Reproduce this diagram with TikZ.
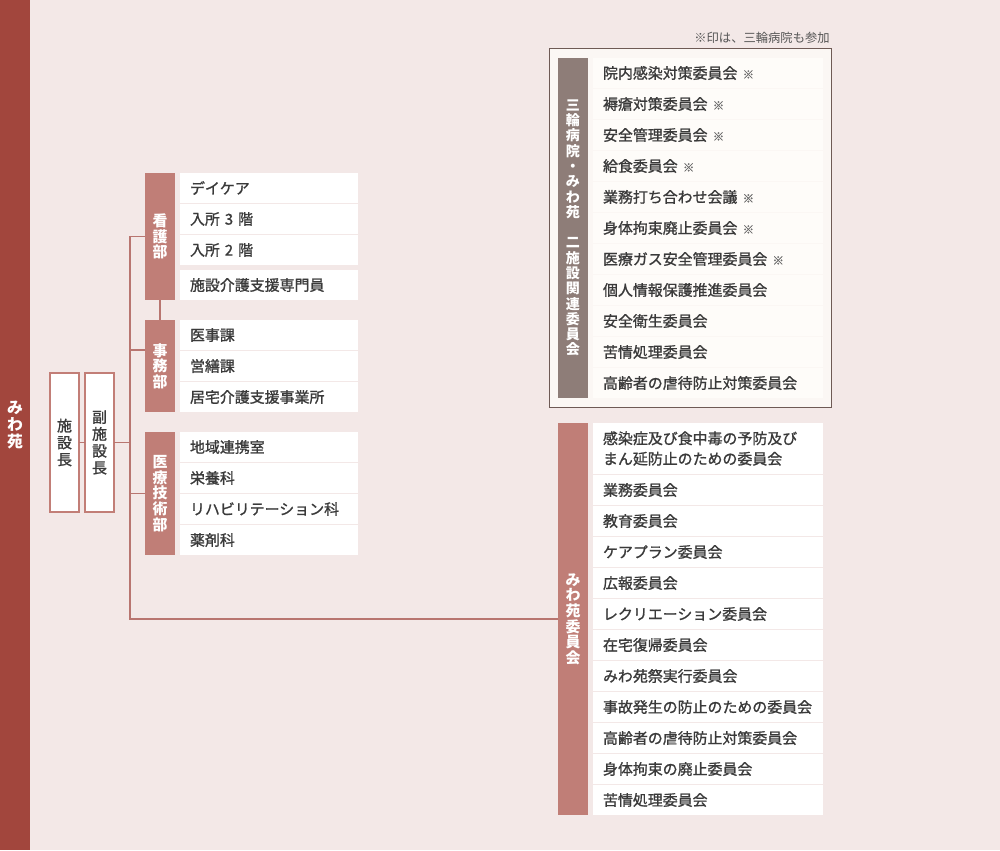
\documentclass[tikz,border=0pt]{standalone}
\usepackage{fontspec}
\setmainfont{Noto Sans CJK JP}
\newfontfamily\medfont[FakeBold=1.2]{Noto Sans CJK JP}
\definecolor{bg}{HTML}{F3E8E7}
\definecolor{leftbar}{HTML}{A2463D}
\definecolor{dept}{HTML}{C07E77}
\definecolor{upperlab}{HTML}{8E7D78}
\definecolor{lowerlab}{HTML}{C07E77}
\definecolor{boxline}{HTML}{C27E77}
\definecolor{conn}{HTML}{B87570}
\definecolor{txt}{HTML}{3A3A3A}
\definecolor{framec}{HTML}{6E5A55}
\definecolor{framefill}{HTML}{FBF7F4}
\definecolor{itemfill}{HTML}{FFFFFF}
\definecolor{uitemfill}{HTML}{FEFCF9}
\definecolor{komec}{HTML}{6E6E6E}
\definecolor{notec}{HTML}{555555}
\newcommand\kome{\hspace{0.35em}{\color{komec}\fontsize{6.5}{6.5}\selectfont ※}}
\newcommand\mybox[7]{\node[#6,minimum width={(#4-#2)*0.02cm},minimum height={(#5-#3)*0.02cm}] (#1) at ({(#2+#4)/2},{(#3+#5)/2}) {#7};}
\tikzset{
  basebox/.style={inner sep=0pt,outer sep=0pt,draw=none},
  vlabel/.style={basebox,align=center,text=white,font=\bfseries\fontsize{8.5}{8.9}\selectfont},
  deptbox/.style={vlabel,fill=dept},
  headbox/.style={basebox,fill=white,draw=boxline,line width=0.6pt,align=center,text=txt,font=\medfont\fontsize{8.5}{9.6}\selectfont},
  litem/.style={basebox,fill=itemfill,text width=3.16cm,inner xsep=0.2cm,align=left,text=txt,font=\medfont\fontsize{8.5}{11.4}\selectfont},
  ritem/.style={basebox,fill=itemfill,text width=4.2cm,inner xsep=0.2cm,align=left,text=txt,font=\medfont\fontsize{8.5}{11.4}\selectfont},
  uitem/.style={ritem,fill=uitemfill},
  conline/.style={draw=conn,line width=0.6pt},
}
\begin{document}
\begin{tikzpicture}[x=0.02cm,y=-0.02cm]
\fill[bg] (0,0) rectangle (1000,850);
\useasboundingbox (0,0) rectangle (1000,850);
% left bar
\mybox{bar}{0}{0}{30}{850}{vlabel,fill=leftbar,font=\bfseries\fontsize{9}{9.6}\selectfont}{み\\わ\\苑}
% heads
\mybox{cho}{50}{373}{79}{512}{headbox}{施\\設\\長}
\mybox{fuku}{85}{373}{114}{512}{headbox}{副\\施\\設\\長}
% departments
\mybox{kango}{145}{173}{175}{300}{deptbox}{看\\護\\部}
\mybox{jimu}{145}{320}{175}{412}{deptbox}{事\\務\\部}
\mybox{iryo}{145}{432}{175}{555}{deptbox}{医\\療\\技\\術\\部}
% nursing items
\mybox{k1}{180}{173}{358}{203}{litem}{デイケア}
\mybox{k2}{180}{204}{358}{234}{litem}{入所 3 階}
\mybox{k3}{180}{235}{358}{265}{litem}{入所 2 階}
\mybox{k4}{180}{270}{358}{300}{litem}{施設介護支援専門員}
% office items
\mybox{j1}{180}{320}{358}{350}{litem}{医事課}
\mybox{j2}{180}{351}{358}{381}{litem}{営繕課}
\mybox{j3}{180}{382}{358}{412}{litem}{居宅介護支援事業所}
% medical tech items
\mybox{m1}{180}{432}{358}{462}{litem}{地域連携室}
\mybox{m2}{180}{463}{358}{493}{litem}{栄養科}
\mybox{m3}{180}{494}{358}{524}{litem}{リハビリテーション科}
\mybox{m4}{180}{525}{358}{555}{litem}{薬剤科}
% upper committee frame
\node[anchor=east,inner sep=0pt,text=notec,font=\fontsize{7}{8}\selectfont] (note) at (830,38) {※印は、三輪病院も参加};
\mybox{frame}{549}{48}{831}{407}{basebox,draw=framec,fill=framefill,line width=0.5pt}{}
\mybox{ulab}{558}{58}{588}{398}{vlabel,fill=upperlab,font=\bfseries\fontsize{8}{8.7}\selectfont}{三\\輪\\病\\院\\・\\み\\わ\\苑\\　\\二\\施\\設\\関\\連\\委\\員\\会}
\foreach \t [count=\i from 0] in {院内感染対策委員会\kome,褥瘡対策委員会\kome,安全管理委員会\kome,給食委員会\kome,業務打ち合わせ会議\kome,身体拘束廃止委員会\kome,医療ガス安全管理委員会\kome,個人情報保護推進委員会,安全衛生委員会,苦情処理委員会,高齢者の虐待防止対策委員会}{
  \pgfmathsetmacro\ya{58+31*\i}
  \mybox{u\i}{593}{\ya}{823}{\ya+30}{uitem}{\t}
}
% lower committee
\mybox{llab}{558}{423}{588}{815}{vlabel,fill=lowerlab}{み\\わ\\苑\\委\\員\\会}
\mybox{w0}{593}{423}{823}{474}{ritem,font=\medfont\fontsize{8.5}{11.6}\selectfont}{感染症及び食中毒の予防及び\\まん延防止のための委員会}
\foreach \t [count=\i from 1] in {業務委員会,教育委員会,ケアプラン委員会,広報委員会,レクリエーション委員会,在宅復帰委員会,みわ苑祭実行委員会,事故発生の防止のための委員会,高齢者の虐待防止対策委員会,身体拘束の廃止委員会,苦情処理委員会}{
  \pgfmathsetmacro\ya{475+31*(\i-1)}
  \mybox{w\i}{593}{\ya}{823}{\ya+30}{ritem}{\t}
}
% connectors
\coordinate (trunk) at (130,0);
\coordinate (jb) at (145,350);
\draw[conline] (cho.east) -- (fuku.west);
\draw[conline] (fuku.east) -- (fuku.east -| trunk);
\draw[conline] (kango.west) -- (kango.west -| trunk) -- (llab.west -| trunk) -- (llab.west);
\draw[conline] (jb) -- (jb -| trunk);
\draw[conline] (iryo.west) -- (iryo.west -| trunk);
\draw[conline] (kango.south) -- (jimu.north);
\end{tikzpicture}
\end{document}
